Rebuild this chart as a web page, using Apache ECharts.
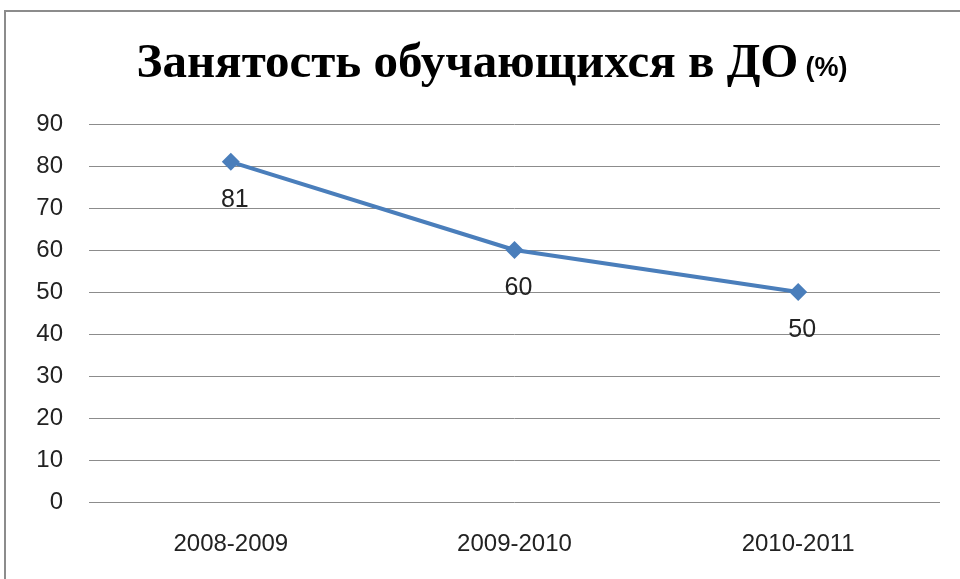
<!DOCTYPE html>
<html><head><meta charset="utf-8">
<script src="https://cdn.jsdelivr.net/npm/echarts@6/dist/echarts.min.js"></script>
<style>html,body{margin:0;padding:0;background:#fff}#c{width:960px;height:579px}</style>
</head><body><div id="c"></div>
<script>
const categories = ['2008-2009', '2009-2010', '2010-2011'];
const values = [81, 60, 50];
const yTicks = [0, 10, 20, 30, 40, 50, 60, 70, 80, 90];
const titleMain = 'Занятость обучающихся в ДО';
const titleUnit = '(%)';

const chart = echarts.init(document.getElementById('c'), null, {renderer: 'canvas'});
chart.setOption({
  animation: false,
  backgroundColor: '#fff',
  graphic: [{
    type: 'rect', shape: {x: 5, y: 11, width: 1000, height: 700},
    style: {fill: 'none', stroke: '#8c8c8c', lineWidth: 2}, silent: true, z: -1
  }],
  title: {
    text: '{a|' + titleMain + '} {b|' + titleUnit + '}',
    left: 487, top: 35, textAlign: 'center',
    textStyle: {
      rich: {
        a: {fontFamily: 'Liberation Serif', fontWeight: 'bold', fontSize: 49, color: '#000'},
        b: {fontFamily: 'Liberation Sans', fontWeight: 'bold', fontSize: 27, color: '#000', padding: [8, 0, 0, 2]}
      }
    }
  },
  grid: {left: 89, right: 20, top: 124, bottom: 77, containLabel: false},
  xAxis: {
    type: 'category', data: categories, boundaryGap: true,
    axisLine: {show: false}, axisTick: {show: false},
    axisLabel: {fontFamily: 'Liberation Sans', fontSize: 24, color: '#222', margin: 30}
  },
  yAxis: {
    type: 'value', min: yTicks[0], max: yTicks[yTicks.length - 1], interval: 10,
    axisLine: {show: false}, axisTick: {show: false},
    axisLabel: {fontFamily: 'Liberation Sans', fontSize: 24, color: '#222', margin: 26},
    splitLine: {lineStyle: {color: '#8c8c8c', width: 1}}
  },
  series: [{
    type: 'line', data: values,
    symbol: 'diamond', symbolSize: 18,
    lineStyle: {color: '#4a7ebb', width: 4},
    itemStyle: {color: '#4a7ebb'},
    label: {show: true, position: 'bottom', distance: 17, fontFamily: 'Liberation Sans', fontSize: 25, color: '#222', offset: [4, 0]}
  }]
});
</script></body></html>
